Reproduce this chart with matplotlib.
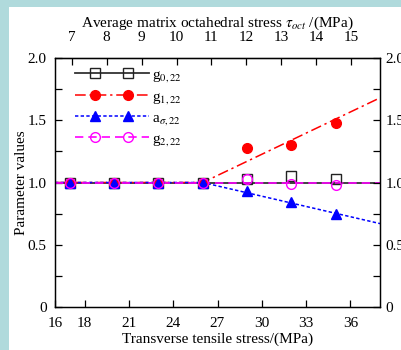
import matplotlib
matplotlib.use('Agg')
import matplotlib.pyplot as plt
from matplotlib.lines import Line2D
from matplotlib.legend_handler import HandlerLine2D, HandlerTuple
from matplotlib.patches import Rectangle
import numpy as np

plt.rcParams['font.family'] = ['Liberation Serif', 'DejaVu Serif']
plt.rcParams['mathtext.fontset'] = 'stix'

# data
stress = [17, 20, 23, 26, 29, 32, 35]
g0 = [1.0, 1.0, 1.0, 1.0, 1.03, 1.05, 1.03]
g1 = [1.0, 1.0, 1.0, 1.0, 1.28, 1.30, 1.48]
a_sig = [1.0, 1.0, 1.0, 1.0, 0.93, 0.84, 0.75]
g2 = [1.0, 1.0, 1.0, 1.0, 1.03, 0.99, 0.98]

fit_x = [16, 26, 38]
g0_fit = [1.0, 1.0, 1.0]
g1_fit = [1.0, 1.0, 1.68]
a_fit = [1.0, 1.0, 0.67]
g2_fit = [1.0, 1.0, 1.0]

xticks = [16, 18, 21, 24, 27, 30, 33, 36]
top_ticks = [7, 8, 9, 10, 11, 12, 13, 14, 15]
yticks = [0, 0.5, 1.0, 1.5, 2.0]
ylabels = ['0', '0.5', '1.0', '1.5', '2.0']

fig = plt.figure(figsize=(4.01, 3.5), dpi=100, facecolor='#b0dadc')
fig.patches.append(Rectangle((9 / 401, 0), 1, 1 - 7 / 350, transform=fig.transFigure,
                             facecolor='white', edgecolor='none', zorder=-5))
ax = fig.add_axes([55 / 401, 43 / 350, 325 / 401, 249 / 350])
ax.set_facecolor('white')

styles = [
    dict(color='#333333', lw=1.3, ls='-'),
    dict(color='red', lw=1.1, ls=(0, (7, 2.5, 1.5, 2.5))),
    dict(color='blue', lw=1.1, ls=(0, (2.2, 1.5))),
    dict(color='magenta', lw=1.2, ls=(0, (5, 3))),
]
marks = [
    dict(marker='s', ms=7.5, mfc='none', mec='#222222', mew=1.0),
    dict(marker='o', ms=7, mfc='red', mec='red'),
    dict(marker='^', ms=7.5, mfc='blue', mec='blue'),
    dict(marker='o', ms=7, mfc='none', mec='magenta', mew=1.0),
]

for fit, st in zip([g0_fit, g1_fit, a_fit, g2_fit], styles):
    ax.plot(fit_x, fit, **st)
for vals, mk in zip([g0, g1, a_sig, g2], marks):
    ax.plot(stress, vals, ls='none', **mk)

handles = []
hmap = {}
for st, mk in zip(styles, marks):
    ln = Line2D([], [], **st)
    mkr = Line2D([], [], ls='none', **mk)
    hmap[ln] = HandlerLine2D(marker_pad=0)
    hmap[mkr] = HandlerLine2D(marker_pad=1.35)
    handles.append((ln, mkr))
hmap[tuple] = HandlerTuple(ndivide=1)

labels = [r'g$_{0,22}$', r'g$_{1,22}$', r'a$_{\sigma,22}$', r'g$_{2,22}$']
leg = ax.legend(handles, labels, loc='upper left', bbox_to_anchor=(0.037, 0.99),
                borderaxespad=0.2, borderpad=0.3,
                frameon=False, numpoints=2, handlelength=4.85, handletextpad=0.2,
                labelspacing=0.33, fontsize=11, handler_map=hmap)

ax.set_xlim(16, 38)
ax.set_ylim(0, 2.0)
ax.set_xticks(xticks)
ax.set_yticks(yticks)
ax.set_yticklabels(ylabels)
ax.set_yticks([0.25, 0.75, 1.25, 1.75], minor=True)
ax.tick_params(which='both', direction='in', length=5, labelsize=11, width=0.9)
ax.tick_params(axis='y', pad=6)
ax.tick_params(axis='x', pad=7)
ax.set_xlabel('Transverse tensile stress/(MPa)', fontsize=11, labelpad=2)
ax.set_ylabel('Parameter values', fontsize=11, labelpad=0)

axr = ax.twinx()
axr.set_ylim(0, 2.0)
axr.set_yticks(yticks)
axr.set_yticklabels(ylabels)
axr.set_yticks([0.25, 0.75, 1.25, 1.75], minor=True)
axr.tick_params(which='both', direction='in', length=5, labelsize=11, width=0.9, pad=4)


def to_top(x):
    return (np.asarray(x) - 17.13) * 0.4228 + 7


def to_bottom(t):
    return (np.asarray(t) - 7) / 0.4228 + 17.13


top = ax.secondary_xaxis('top', functions=(to_top, to_bottom))
top.set_xticks(top_ticks)
top.tick_params(direction='in', length=5, labelsize=11, width=0.9, pad=10)
top.set_xlabel(r'Average matrix octahedral stress $\tau_{oct}$ /(MPa)', fontsize=11, labelpad=3)

for a_ in (ax, axr):
    for s in a_.spines.values():
        s.set_linewidth(0.9)

fig.savefig('out.png', dpi=100, facecolor=fig.get_facecolor())
